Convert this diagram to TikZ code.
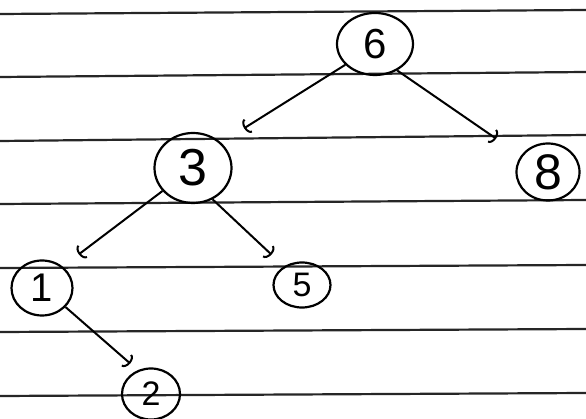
\documentclass[tikz,border=0pt]{standalone}
\usepackage{fontspec}
\setmainfont{Liberation Sans}
\usetikzlibrary{shapes.geometric,arrows.meta}
\tikzset{
  rule/.style={line width=2.2pt,black!85},
  vnode/.style={ellipse,draw,line width=2.2pt,inner sep=0pt},
  edge/.style={line width=2pt,-{Arc Barb[length=5pt,width=16pt]}},
}
\begin{document}
\begin{tikzpicture}[x=1pt,y=-1pt]
\useasboundingbox (0,0) rectangle (586,419);
\fill[white] (0,0) rectangle (586,419);
% ruled paper lines
\draw[rule] (0,14) -- (586,10);
\draw[rule] (0,77) -- (586,72);
\draw[rule] (0,141) -- (586,135);
\draw[rule] (0,204) -- (586,200);
\draw[rule] (0,268) -- (586,265);
\draw[rule] (0,332) -- (586,329);
\draw[rule] (0,396) -- (586,393);
% nodes
\node[vnode,minimum width=76pt,minimum height=62pt,font=\fontsize{42}{42}\selectfont] (n6) at (375,44) {6};
\node[vnode,minimum width=77pt,minimum height=70pt,font=\fontsize{52}{52}\selectfont] (n3) at (193,168) {3};
\node[vnode,minimum width=63pt,minimum height=57pt,font=\fontsize{50}{50}\selectfont] (n8) at (548,172) {8};
\node[vnode,minimum width=61pt,minimum height=55pt,font=\fontsize{40}{40}\selectfont] (n1) at (42,288) {1};
\node[vnode,minimum width=57pt,minimum height=45pt,font=\fontsize{34}{34}\selectfont] (n5) at (302,285) {5};
\node[vnode,minimum width=58pt,minimum height=51pt,font=\fontsize{34}{34}\selectfont] (n2) at (151,394) {2};
% edges
\draw[edge,shorten >=27pt] (n6.215) -- (n3.42);
\draw[edge,shorten >=30pt] (n6.310) -- (n8.149);
\draw[edge,shorten >=20pt] (n3.217) -- (n1.46);
\draw[edge,shorten >=17pt] (n3.302) -- (n5.134);
\draw[edge,shorten >=10pt] (n1.321) -- (n2.119);
\end{tikzpicture}
\end{document}
